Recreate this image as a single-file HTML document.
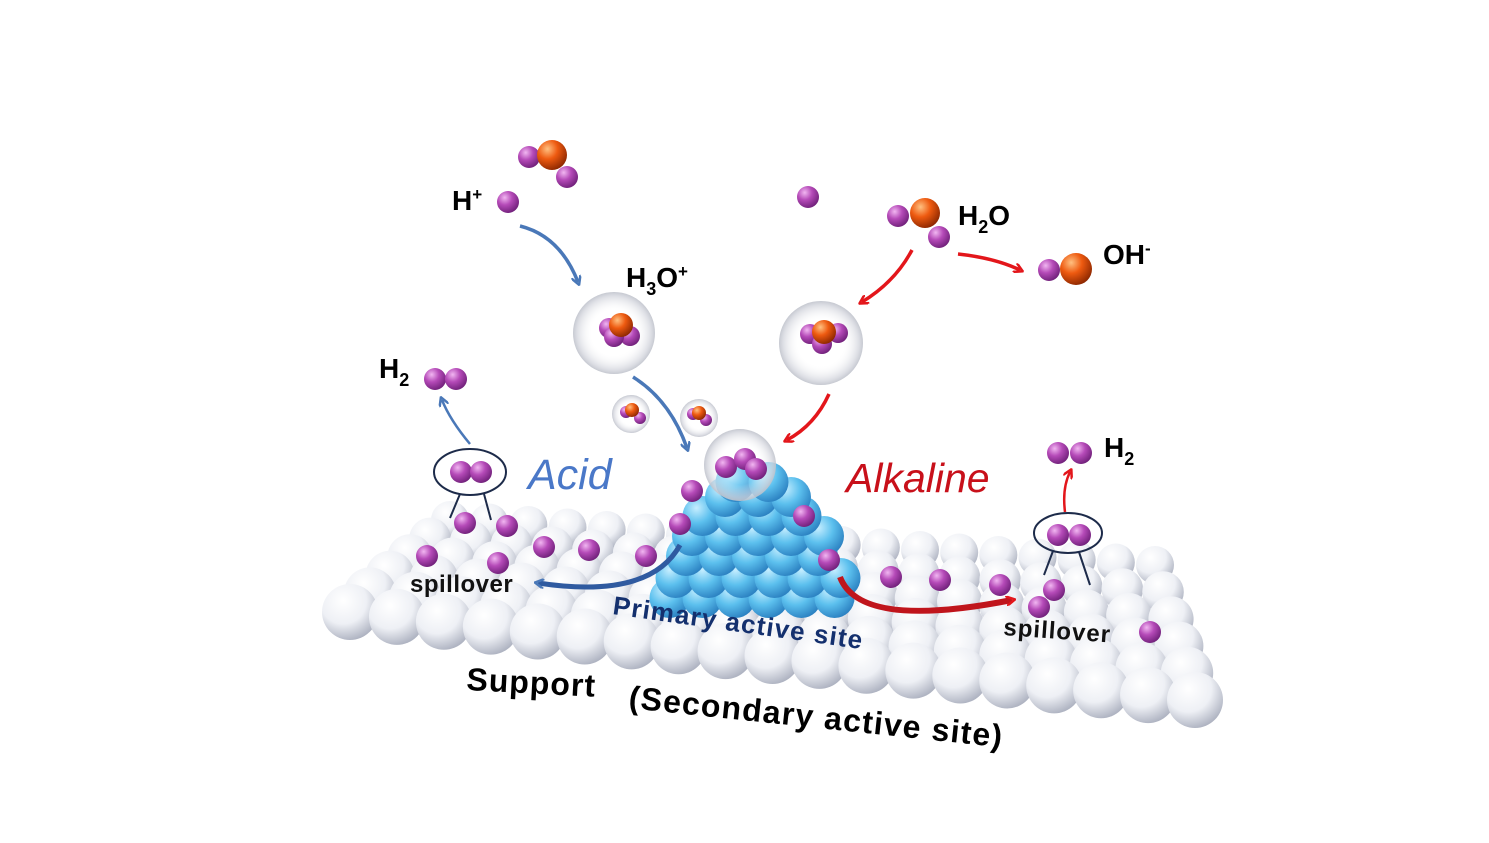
<!DOCTYPE html>
<html><head><meta charset="utf-8"><style>
html,body{margin:0;padding:0;background:#fff;width:1489px;height:843px;overflow:hidden;position:relative}
svg{display:block}
text{font-family:"Liberation Sans","DejaVu Sans",sans-serif;font-weight:bold}
</style></head><body>
<svg id="s" width="1489" height="843" viewBox="0 0 1489 843" xmlns="http://www.w3.org/2000/svg">
<defs>
<radialGradient id="gw" cx="0.38" cy="0.3" r="0.75"><stop offset="0" stop-color="#ffffff"/><stop offset="0.55" stop-color="#eef0f5"/><stop offset="1" stop-color="#a9aebd"/></radialGradient>
<radialGradient id="gb" cx="0.35" cy="0.3" r="0.75"><stop offset="0" stop-color="#c6eeff"/><stop offset="0.5" stop-color="#5cc0ee"/><stop offset="1" stop-color="#2a7fc0"/></radialGradient>
<radialGradient id="gp" cx="0.35" cy="0.3" r="0.75"><stop offset="0" stop-color="#f1b6f1"/><stop offset="0.45" stop-color="#b54ab8"/><stop offset="1" stop-color="#6e1f78"/></radialGradient>
<radialGradient id="go" cx="0.35" cy="0.3" r="0.75"><stop offset="0" stop-color="#ffc080"/><stop offset="0.45" stop-color="#ee5a10"/><stop offset="1" stop-color="#8a2600"/></radialGradient>
</defs>
<g id="plane"></g>
<g id="pyr"></g>
<g id="top"></g>
</svg>
<script>
var NS="http://www.w3.org/2000/svg";
function c(g,x,y,r,f){var e=document.createElementNS(NS,"circle");e.setAttribute("cx",x);e.setAttribute("cy",y);e.setAttribute("r",r);e.setAttribute("fill",f);document.getElementById(g).appendChild(e);}
var BL=[450,520],BR=[1155,565],FL=[350,612],FR=[1195,700];
var NI=19,NJ=6;
for(var j=0;j<NJ;j++){var t=j/(NJ-1);for(var i=0;i<NI;i++){var u=i/(NI-1);
var x=(1-t)*((1-u)*BL[0]+u*BR[0])+t*((1-u)*FL[0]+u*FR[0]);
var y=(1-t)*((1-u)*BL[1]+u*BR[1])+t*((1-u)*FL[1]+u*FR[1]);
c("plane",x,y,19+9*t,"url(#gw)");}}
var layers=[[6,598],[6,578],[5,556],[5,536],[4,516],[3,497],[2,482]];
for(var k=0;k<layers.length;k++){var n=layers[k][0],y=layers[k][1];for(var i=0;i<n;i++){c("pyr",752+(i-(n-1)/2)*33+(k%2?6:0),y,20,"url(#gb)");}}
var P=[[465,523],[507,526],[427,556],[544,547],[589,550],[498,563],[646,556],[680,524],[692,491],[804,516],[829,560],[891,577],[940,580],[1000,585],[1054,590],[1039,607],[1150,632],[808,197],[508,202],[567,177],[529,157],[898,216],[939,237],[1049,270],[461,472],[481,472],[435,379],[456,379],[1058,453],[1081,453],[1058,535],[1080,535]];
P.forEach(function(p){c("top",p[0],p[1],11,"url(#gp)");});
c("top",552,155,15,"url(#go)");c("top",925,213,15,"url(#go)");c("top",1076,269,16,"url(#go)");
</script>
<svg width="1489" height="843" style="position:absolute;left:0;top:0">
<defs>
<radialGradient id="gp2" cx="0.35" cy="0.3" r="0.75"><stop offset="0" stop-color="#f1b6f1"/><stop offset="0.45" stop-color="#b54ab8"/><stop offset="1" stop-color="#6e1f78"/></radialGradient>
<radialGradient id="go2" cx="0.35" cy="0.3" r="0.75"><stop offset="0" stop-color="#ffc080"/><stop offset="0.45" stop-color="#ee5a10"/><stop offset="1" stop-color="#8a2600"/></radialGradient>
<radialGradient id="gbub" cx="0.5" cy="0.5" r="0.5"><stop offset="0.55" stop-color="#ffffff" stop-opacity="0.15"/><stop offset="0.9" stop-color="#d2d4dc" stop-opacity="0.75"/><stop offset="1" stop-color="#c0c3cc" stop-opacity="0.9"/></radialGradient>
<marker id="b2" markerWidth="10" markerHeight="10" refX="6" refY="5" orient="auto" markerUnits="userSpaceOnUse"><path d="M0,0 L9,5 L0,10" fill="none" stroke="#4a78b8" stroke-width="2.5"/></marker>
<marker id="r2" markerWidth="10" markerHeight="10" refX="6" refY="5" orient="auto" markerUnits="userSpaceOnUse"><path d="M0,0 L9,5 L0,10" fill="none" stroke="#e3161b" stroke-width="2.5"/></marker>
</defs>
<circle cx="614" cy="333" r="41" fill="url(#gbub)"/>
<circle cx="821" cy="343" r="42" fill="url(#gbub)"/>
<circle cx="631" cy="414" r="19" fill="url(#gbub)"/>
<circle cx="699" cy="418" r="19" fill="url(#gbub)"/>
<circle cx="740" cy="465" r="36" fill="url(#gbub)"/>
<g fill="url(#gp2)">
<circle cx="609" cy="328" r="10"/><circle cx="630" cy="336" r="10"/><circle cx="614" cy="337" r="10"/>
<circle cx="810" cy="334" r="10"/><circle cx="838" cy="333" r="10"/><circle cx="822" cy="344" r="10"/>
<circle cx="626" cy="412" r="6"/><circle cx="640" cy="418" r="6"/><circle cx="693" cy="414" r="6"/><circle cx="706" cy="420" r="6"/>
<circle cx="726" cy="467" r="11"/><circle cx="745" cy="459" r="11"/><circle cx="756" cy="469" r="11"/>
</g>
<g fill="url(#go2)"><circle cx="621" cy="325" r="12"/><circle cx="824" cy="332" r="12"/><circle cx="632" cy="410" r="7"/><circle cx="699" cy="413" r="7"/></g>
<g fill="none" stroke-width="3.5">
<path d="M520,226 Q560,236 578,282" stroke="#4a78b8" marker-end="url(#b2)"/>
<path d="M633,377 Q670,400 687,448" stroke="#4a78b8" marker-end="url(#b2)"/>
<path d="M470,444 Q450,420 442,400" stroke="#4a78b8" stroke-width="2.5" marker-end="url(#b2)"/>
<path d="M680,545 Q650,600 538,583" stroke="#2f5aa0" stroke-width="5" marker-end="url(#b2)"/>
<path d="M912,250 Q895,282 862,302" stroke="#e3161b" marker-end="url(#r2)"/>
<path d="M958,254 Q995,258 1020,270" stroke="#e3161b" marker-end="url(#r2)"/>
<path d="M829,394 Q815,425 787,440" stroke="#e3161b" marker-end="url(#r2)"/>
<path d="M1065,512 Q1062,488 1070,472" stroke="#e3161b" stroke-width="2.5" marker-end="url(#r2)"/>
<path d="M840,577 Q860,630 1012,600" stroke="#c0151c" stroke-width="6" marker-end="url(#r2)"/>
</g>
<g fill="none" stroke="#1d2b4a" stroke-width="2">
<ellipse cx="470" cy="472" rx="36" ry="23"/><ellipse cx="1068" cy="533" rx="34" ry="20"/>
<path d="M460,494 L450,518 M484,494 L491,520 M1053,551 L1044,575 M1079,552 L1090,585"/>
</g>
<text x="452" y="210" font-size="28">H<tspan font-size="17" dy="-10">+</tspan></text>
<text x="626" y="287" font-size="28">H<tspan font-size="18" dy="8">3</tspan><tspan dy="-8">O</tspan><tspan font-size="17" dy="-10">+</tspan></text>
<text x="958" y="225" font-size="28">H<tspan font-size="18" dy="8">2</tspan><tspan dy="-8">O</tspan></text>
<text x="1103" y="264" font-size="28">OH<tspan font-size="17" dy="-10">-</tspan></text>
<text x="379" y="378" font-size="28">H<tspan font-size="18" dy="8">2</tspan></text>
<text x="1104" y="457" font-size="28">H<tspan font-size="18" dy="8">2</tspan></text>
<text x="528" y="489" font-size="43" font-style="italic" fill="#4a78c8" style="font-weight:normal">Acid</text>
<text x="846" y="492" font-size="41" font-style="italic" fill="#c8101a" style="font-weight:normal">Alkaline</text>
<text x="410" y="592" font-size="24" fill="#111" letter-spacing="0.5">spillover</text>
<text x="1003" y="635" font-size="24" fill="#111" letter-spacing="1" transform="rotate(4 1003 635)">spillover</text>
<text x="612" y="614" font-size="26" fill="#14306e" letter-spacing="1.2" transform="rotate(8 612 614)">Primary active site</text>
<text x="466" y="690" font-size="32" fill="#000" letter-spacing="1" transform="rotate(3 466 690)">Support</text>
<text x="628" y="708" font-size="32" fill="#000" letter-spacing="1.2" transform="rotate(6 628 708)">(Secondary active site)</text>
</svg>
</body></html>
